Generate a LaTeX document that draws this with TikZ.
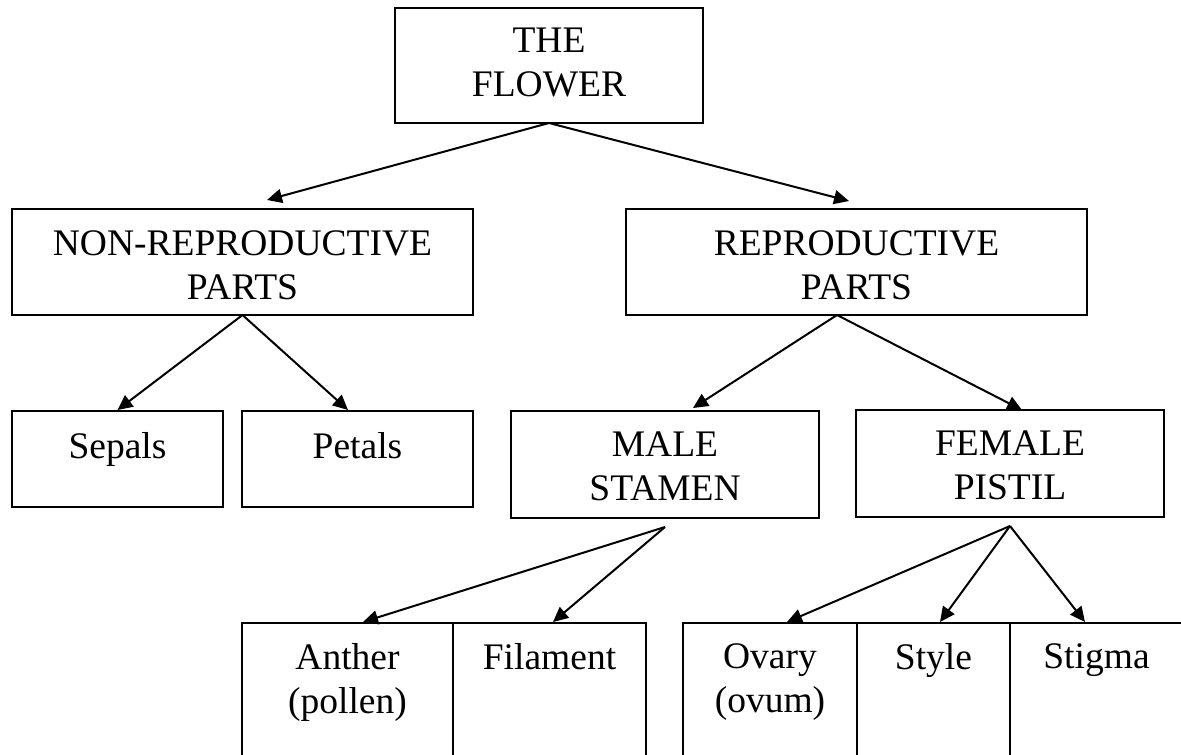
\documentclass[tikz,border=0pt]{standalone}
\usepackage{fontspec}
\setmainfont{Liberation Serif}
\usetikzlibrary{arrows.meta,calc}
\tikzset{
  box/.style={draw=black, line width=1.4pt, rectangle, inner sep=0pt, outer sep=0pt},
  txt/.style={anchor=north, inner sep=0pt, align=center, font=\fontsize{37.5}{44}\selectfont},
  arr/.style={line width=2pt, -{Triangle[length=15pt,width=14pt]}}
}
\begin{document}
\begin{tikzpicture}[x=1pt,y=-1pt]
\clip (0,0) rectangle (1181,755);
\fill[white] (0,0) rectangle (1181,755);
% boxes
\node[box, minimum width=308pt, minimum height=115pt] (flower) at (549,65.5) {};
\node[box, minimum width=461pt, minimum height=106pt] (nonrep) at (242.5,262) {};
\node[box, minimum width=461pt, minimum height=106pt] (rep) at (856.5,262) {};
\node[box, minimum width=211pt, minimum height=96pt] (sepals) at (117.5,459) {};
\node[box, minimum width=231pt, minimum height=96pt] (petals) at (357.5,459) {};
\node[box, minimum width=308pt, minimum height=107pt] (male) at (665,464.5) {};
\node[box, minimum width=308pt, minimum height=107pt] (female) at (1010,463.5) {};
\node[box, minimum width=211pt, minimum height=200pt] (anther) at (347.5,723) {};
\node[box, minimum width=193pt, minimum height=200pt] (filament) at (549.5,723) {};
\node[box, minimum width=174pt, minimum height=200pt] (ovary) at (770,723) {};
\node[box, minimum width=153pt, minimum height=200pt] (style) at (933.5,723) {};
\node[box, minimum width=173pt, minimum height=200pt] (stigma) at (1096.5,723) {};
% texts
\node[txt] (flowerT) at ([yshift=-20pt]flower.north) {THE\\FLOWER};
\node[txt] (nonrepT) at ([yshift=-21pt]nonrep.north) {NON-REPRODUCTIVE\\PARTS};
\node[txt] (repT) at ([yshift=-21pt]rep.north) {REPRODUCTIVE\\PARTS};
\node[txt] (sepalsT) at ([yshift=-21pt]sepals.north) {Sepals};
\node[txt] (petalsT) at ([yshift=-21pt]petals.north) {Petals};
\node[txt] (maleT) at ([yshift=-21pt]male.north) {MALE\\STAMEN};
\node[txt] (femaleT) at ([yshift=-21pt]female.north) {FEMALE\\PISTIL};
\node[txt] (antherT) at ([yshift=-20pt]anther.north) {Anther\\(pollen)};
\node[txt] (filamentT) at ([yshift=-20pt]filament.north) {Filament};
\node[txt] (ovaryT) at ([yshift=-20pt]ovary.north) {Ovary\\(ovum)};
\node[txt] (styleT) at ([yshift=-20pt]style.north) {Style};
\node[txt] (stigmaT) at ([yshift=-20pt]stigma.north) {Stigma};
% connectors
\draw[arr] (flower.south) -- ($(nonrep.north)+(24.5,-9)$);
\draw[arr] (flower.south) -- ($(rep.north)+(-7.5,-8)$);
\draw[arr] (nonrep.south) -- ($(sepals.north)+(0,-1)$);
\draw[arr] (nonrep.south) -- ($(petals.north)+(-9.5,-1)$);
\coordinate (repA) at ($(rep.south)+(-19.5,0)$);
\draw[arr] (repA) -- ($(male.north)+(28,-3)$);
\draw[arr] (repA) -- ($(female.north)+(12,0)$);
\coordinate (maleA) at ($(male.south)+(0,9)$);
\draw[arr] (maleA) -- ($(anther.north)+(15.5,-1)$);
\draw[arr] (maleA) -- ($(filament.north)+(3.5,-1)$);
\coordinate (femaleA) at ($(female.south)+(0,9)$);
\draw[arr] (femaleA) -- ($(ovary.north)+(17,-1)$);
\draw[arr] (femaleA) -- ($(style.north)+(6.5,-1)$);
\draw[arr] (femaleA) -- ($(stigma.north)+(-11.5,-1)$);
\end{tikzpicture}
\end{document}
